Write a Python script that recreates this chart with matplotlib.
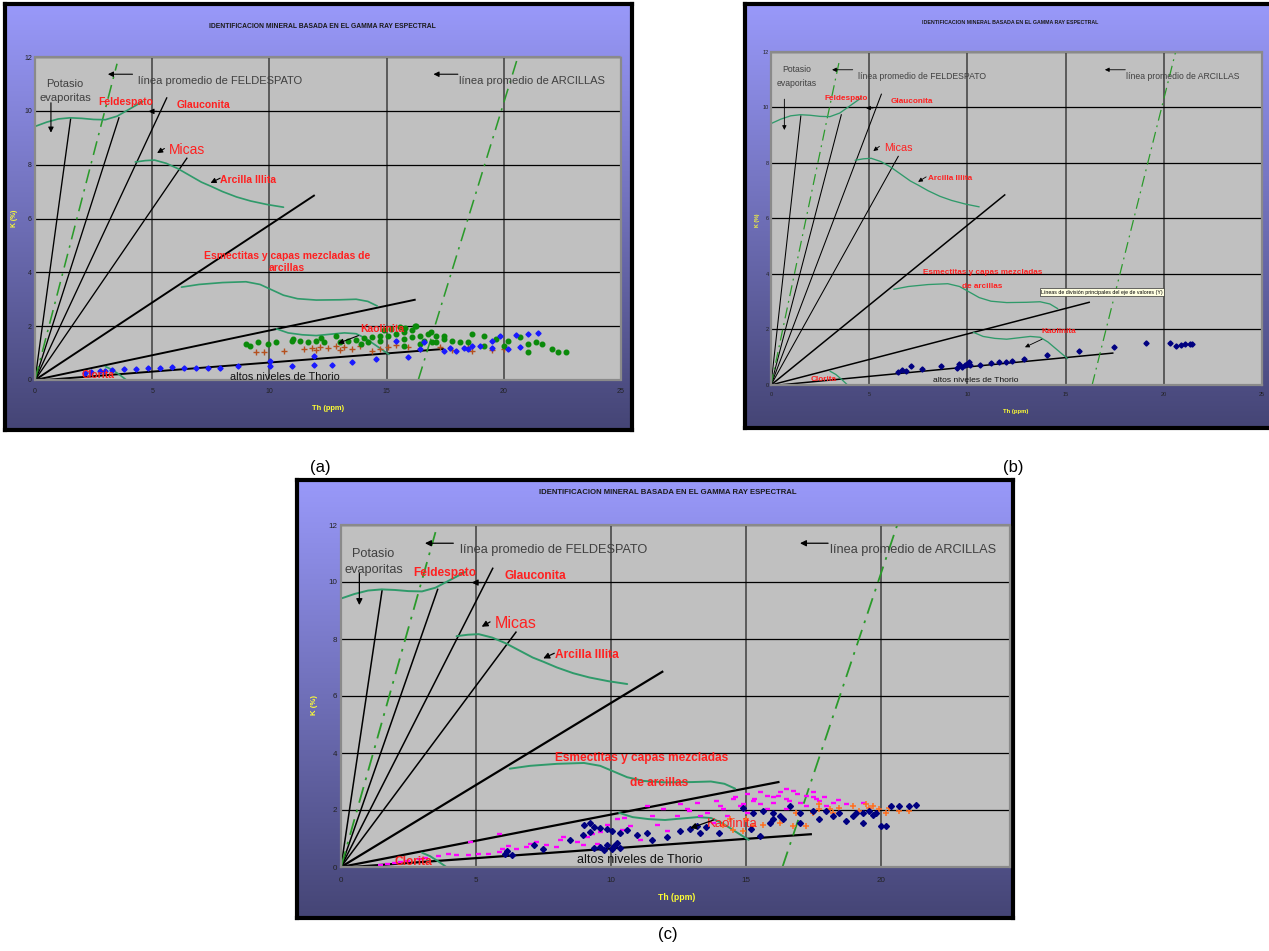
import numpy as np
import matplotlib
matplotlib.use("Agg")
import matplotlib.pyplot as plt

W, H = 1269, 951
plt.rcParams["font.family"] = ["Liberation Sans", "DejaVu Sans"]

TITLE = "IDENTIFICACION MINERAL BASADA EN EL GAMMA RAY ESPECTRAL"
X_TICKS = [0, 5, 10, 15, 20, 25]
Y_TICKS = [0, 2, 4, 6, 8, 10, 12]

# black rays from the origin (end points)
RAY_TH = [1.52, 3.58, 5.62, 6.48, 11.9, 16.2]
RAY_K = [9.70, 9.74, 10.48, 8.24, 6.85, 2.98]
RAY_LW = [1.1, 1.1, 1.1, 1.1, 1.6, 1.6]
THORIO_TH = [0.4, 17.4]
THORIO_K = [0.0, 1.15]
FELD_TH = [0.0, 3.5]
FELD_K = [0.0, 11.75]
ARC_TH = [16.35, 20.6]
ARC_K = [0.0, 12.0]

# green hand-drawn boundaries
TOP_TH = [0.0, 0.5, 1.0, 1.5, 2.0, 2.5, 3.0, 3.5, 4.0, 4.6]
TOP_K = [9.42, 9.58, 9.70, 9.74, 9.72, 9.68, 9.67, 9.80, 10.05, 10.35]
MICA_TH = [4.28, 4.7, 5.1, 5.6, 6.1, 6.6, 7.1, 7.5, 8.0, 8.6, 9.2, 9.9, 10.6]
MICA_K = [8.10, 8.15, 8.17, 8.05, 7.85, 7.60, 7.35, 7.20, 7.00, 6.80, 6.65, 6.52, 6.42]
ESME_TH = [6.25, 7.0, 8.0, 9.0, 9.6, 10.1, 10.6, 11.2, 12.0, 13.0, 13.7, 14.2, 14.6]
ESME_K = [3.45, 3.55, 3.62, 3.65, 3.55, 3.35, 3.15, 3.02, 2.97, 2.98, 3.00, 2.92, 2.75]
KAO_TH = [10.3, 10.8, 11.4, 12.0, 12.6, 13.2, 13.7, 14.1, 14.6, 15.1]
KAO_K = [1.90, 1.75, 1.68, 1.65, 1.70, 1.75, 1.72, 1.55, 1.25, 0.95]
CLO_TH = [3.0, 3.3, 3.6, 3.9, 4.2]
CLO_K = [0.50, 0.38, 0.20, 0.00, -0.20]

# panel (a) data
A_GREEN_TH = [9.0, 9.18, 9.52, 9.95, 10.29, 10.97, 11.31, 11.66, 12.0, 12.34, 12.85, 13.0, 13.36,
              13.7, 14.04, 14.38, 14.73, 15.07, 15.41, 15.75, 16.09, 16.26, 15.58, 16.43, 16.77,
              17.12, 17.46, 16.95, 16.43, 15.75, 17.8, 18.14, 18.65, 19.16, 19.68, 20.19, 20.7,
              21.04, 21.39, 21.64, 22.07, 22.32, 22.66, 21.04, 19.16, 17.46, 14.73, 14.21, 15.75,
              17.12, 18.48, 20.02, 16.09, 16.6, 15.2, 15.8, 16.2, 11.0, 12.2, 13.9, 14.9, 16.9]
A_GREEN_K = [1.34, 1.28, 1.40, 1.34, 1.40, 1.46, 1.46, 1.43, 1.46, 1.43, 1.63, 1.40, 1.46,
             1.50, 1.55, 1.59, 1.46, 1.65, 1.71, 1.78, 1.84, 2.00, 1.96, 1.63, 1.71,
             1.65, 1.53, 1.40, 1.34, 1.28, 1.46, 1.40, 1.71, 1.63, 1.53, 1.46, 1.59,
             1.34, 1.40, 1.34, 1.15, 1.05, 1.05, 1.03, 1.28, 1.65, 1.65, 1.40, 1.53,
             1.40, 1.43, 1.28, 1.59, 1.46, 1.90, 1.95, 2.00, 1.52, 1.55, 1.35, 1.85, 1.80]
A_BROWN_TH = [9.44, 9.78, 10.63, 11.48, 11.83, 12.17, 12.51, 12.85, 13.2, 13.54, 13.88, 14.38,
              14.73, 15.07, 15.41, 15.92, 16.43, 17.29, 17.8, 18.48, 19.5, 20.0, 18.65, 12.0, 13.0]
A_BROWN_K = [1.05, 1.05, 1.09, 1.15, 1.18, 1.21, 1.18, 1.28, 1.21, 1.15, 1.28, 1.09,
             1.15, 1.21, 1.30, 1.21, 1.15, 1.21, 1.12, 1.21, 1.12, 1.15, 1.09, 1.10, 1.12]
A_BLUE_TH = [2.13, 2.4, 2.78, 3.0, 3.29, 3.8, 4.3, 4.83, 5.34, 5.85, 6.36, 6.88, 7.39, 7.9, 8.67,
             10.03, 10.03, 10.97, 11.91, 11.91, 12.68, 13.54, 14.56, 15.92, 16.6, 17.46, 17.97,
             18.48, 18.99, 19.5, 19.85, 20.53, 21.04, 21.47, 20.19, 20.7, 19.5, 18.65, 18.3,
             15.4, 16.43, 17.7]
A_BLUE_K = [0.25, 0.28, 0.34, 0.33, 0.38, 0.40, 0.42, 0.45, 0.46, 0.49, 0.46, 0.46, 0.44, 0.44, 0.52,
            0.71, 0.52, 0.52, 0.55, 0.90, 0.57, 0.67, 0.77, 0.87, 1.40, 1.09, 1.09,
            1.15, 1.27, 1.46, 1.65, 1.67, 1.71, 1.74, 1.15, 1.21, 1.18, 1.27, 1.18,
            1.46, 1.15, 1.18]

# panel (b) data
B_NAVY_TH = [6.47, 6.69, 6.86, 7.15, 7.71, 8.64, 9.48, 9.57, 9.74, 9.86, 9.96, 10.08, 10.13,
             10.63, 11.18, 11.6, 11.94, 12.28, 12.9, 14.05, 15.66, 17.44, 19.08, 20.31, 20.62,
             20.86, 21.07, 21.33, 21.46]
B_NAVY_K = [0.46, 0.53, 0.52, 0.67, 0.59, 0.67, 0.62, 0.76, 0.64, 0.72, 0.77, 0.82, 0.73,
            0.73, 0.78, 0.82, 0.83, 0.86, 0.93, 1.07, 1.21, 1.38, 1.50, 1.53, 1.42,
            1.43, 1.48, 1.48, 1.49]

# panel (c) data
C_MAG_TH = [1.45, 1.7, 1.95, 2.45, 2.89, 3.58, 3.96, 4.27, 4.71, 5.09, 5.46, 5.84, 5.97, 6.47,
            6.85, 7.22, 7.6, 7.97, 8.23, 8.73, 8.98, 9.48, 4.77, 5.84, 9.11, 9.61, 10.22, 10.71,
            11.08, 11.7, 12.07, 12.44, 12.8, 13.17, 13.54, 14.03, 14.28, 14.53, 14.77, 15.02,
            15.26, 15.51, 15.76, 16.0, 16.25, 16.49, 16.74, 16.99, 17.23, 17.48, 17.72, 17.97,
            18.22, 18.71, 19.32, 13.3, 13.79, 11.94, 11.33, 10.47, 9.85, 15.76, 16.49, 17.23,
            15.02, 14.16, 12.56, 15.51, 16.49, 16.0, 17.48, 13.9, 14.6, 15.3, 16.2, 16.9, 17.6,
            12.9, 11.5, 10.4, 9.3, 8.1, 7.0, 6.2, 3.1, 2.2, 14.9, 16.6, 17.9, 18.4]
C_MAG_K = [0.08, 0.12, 0.15, 0.20, 0.27, 0.39, 0.45, 0.41, 0.43, 0.47, 0.47, 0.53, 0.64, 0.62,
           0.70, 0.88, 0.76, 0.70, 1.05, 0.88, 0.76, 0.82, 0.88, 1.17, 1.05, 1.23, 1.67, 1.43,
           0.95, 1.49, 1.25, 1.79, 2.02, 2.26, 1.90, 2.14, 1.79, 2.38, 2.14, 2.56,
           2.32, 2.20, 2.50, 2.26, 2.62, 2.38, 2.68, 2.26, 2.50, 2.44, 2.32, 2.14,
           2.26, 2.20, 2.26, 1.79, 1.55, 2.02, 2.14, 1.73, 1.49, 2.02, 2.02, 2.14,
           1.90, 2.02, 2.20, 2.62, 2.74, 2.44, 2.62, 2.30, 2.45, 2.40, 2.50, 2.55, 2.40,
           1.95, 1.80, 1.30, 1.15, 0.95, 0.80, 0.72, 0.30, 0.18, 2.20, 2.30, 2.45, 2.35]
C_NAVY_TH = [8.99, 9.24, 9.61, 9.85, 10.04, 10.34, 10.59, 10.96, 11.33, 11.51, 12.07, 12.56, 12.93,
             13.3, 9.36, 9.61, 9.85, 10.1, 10.34, 9.73, 10.04, 10.22, 14.9, 15.26, 15.63, 16.0,
             16.25, 16.37, 16.62, 16.99, 17.48, 17.72, 17.97, 18.22, 18.46, 18.71, 19.08, 19.32,
             19.57, 19.82, 20.0, 20.18, 20.37, 20.68, 21.05, 21.3, 16.0, 15.88, 16.99, 18.96,
             19.32, 19.69, 13.5, 13.2, 14.0, 15.5, 15.2, 6.09, 6.34, 7.16, 7.48, 8.48, 8.98,
             9.23, 9.36, 6.16]
C_NAVY_K = [1.49, 1.55, 1.37, 1.33, 1.25, 1.19, 1.31, 1.13, 1.19, 0.95, 1.07, 1.25, 1.33,
            1.19, 0.65, 0.71, 0.77, 0.74, 0.65, 0.60, 0.62, 0.83, 2.08, 1.90, 1.96, 1.90,
            1.79, 1.67, 2.14, 1.90, 1.96, 1.67, 1.96, 1.79, 1.90, 1.61, 1.90, 1.55,
            1.96, 1.90, 1.43, 1.43, 2.14, 2.14, 2.14, 2.17, 1.67, 1.55, 1.55, 1.79,
            1.90, 1.84, 1.40, 1.45, 1.20, 1.10, 1.35, 0.47, 0.41, 0.76, 0.64, 0.94, 1.11,
            1.23, 1.40, 0.55]
C_ORANGE_TH = [14.16, 14.53, 14.9, 15.26, 15.63, 16.25, 16.74, 17.23, 17.72, 18.1, 18.46, 18.96,
               19.45, 19.69, 19.94, 20.31, 20.68, 21.05, 17.48, 18.22, 19.2, 19.57, 20.18, 14.4,
               15.0, 16.86, 17.72]
C_ORANGE_K = [1.49, 1.31, 1.25, 1.43, 1.49, 1.55, 1.43, 1.43, 2.02, 2.05, 2.08, 2.14,
              2.20, 2.14, 2.02, 2.08, 1.96, 1.96, 1.90, 1.90, 1.96, 2.08, 1.90, 1.67,
              1.67, 1.90, 2.20]

# label text and anchor positions (Th, K) used by all panels unless overridden
LABELS = {
    "potasio": ("Potasio", 1.2, 10.97),
    "evap": ("evaporitas", 1.2, 10.42),
    "feld_line": ("línea promedio de FELDESPATO", 4.41, 11.12),
    "arc_line": ("línea promedio de ARCILLAS", 18.1, 11.12),
    "feldespato": ("Feldespato", 3.85, 10.33),
    "glauconita": ("Glauconita", 7.19, 10.2),
    "micas": ("Micas", 6.48, 8.55),
    "illita": ("Arcilla Illita", 9.1, 7.43),
    "esme1": ("Esmectitas y capas mezcladas", 11.15, 3.82),
    "esme2": ("de arcillas", 11.8, 2.95),
    "kaolinita": ("Kaolinita", 14.5, 1.5),
    "clorita": ("Clorita", 2.68, 0.19),
    "thorio": ("altos niveles de Thorio", 11.07, 0.25),
}
# arrows: (tip, tail)
ARROWS = {
    "evap": ((0.68, 9.19), (0.68, 10.3)),
    "feld_line": ((3.11, 11.36), (4.16, 11.36)),
    "arc_line": ((17.0, 11.36), (18.04, 11.36)),
    "glauconita": ((4.84, 9.98), (5.2, 9.98)),
    "micas": ((5.21, 8.43), (5.52, 8.6)),
    "illita": ((7.49, 7.32), (7.9, 7.5)),
    "kaolinita": ((12.93, 1.36), (13.8, 1.65)),
}


def rect(l, t, r, b):
    return [l / W, 1 - b / H, (r - l) / W, (b - t) / H]


def draw_panel(fig, frame, plot, xmax, s, title_xy, xlab_xy, ylab_xy, series, overrides=None,
               kaol_red_bold=False):
    labels = dict(LABELS)
    if overrides:
        labels.update(overrides)

    # gradient background with black frame
    bg = fig.add_axes(rect(*frame))
    grad = np.linspace(0, 1, 256).reshape(-1, 1)
    top = np.array([0.60, 0.60, 0.98])
    bot = np.array([0.27, 0.27, 0.46])
    img = top + (bot - top) * grad[:, :, None]
    bg.imshow(img, aspect="auto", extent=[0, 1, 0, 1])
    bg.set_xticks([])
    bg.set_yticks([])
    for sp in bg.spines.values():
        sp.set_linewidth(3)
        sp.set_color("black")

    fig.text(title_xy[0] / W, 1 - title_xy[1] / H, TITLE, ha="center", va="center",
             fontsize=5.6 * s, fontweight="bold", color="#1a1a1a")
    fig.text(xlab_xy[0] / W, 1 - xlab_xy[1] / H, "Th (ppm)", ha="center", va="center",
             fontsize=6.2 * s, fontweight="bold", color="#ffff33")
    fig.text(ylab_xy[0] / W, 1 - ylab_xy[1] / H, "K (%)", ha="center", va="center",
             rotation=90, fontsize=5.6 * s, fontweight="bold", color="#ffff33")

    ax = fig.add_axes(rect(*plot))
    ax.set_facecolor("#c0c0c0")
    ax.set_xlim(0, xmax)
    ax.set_ylim(0, 12)
    ax.set_xticks([t for t in X_TICKS if t <= xmax])
    ax.set_yticks(Y_TICKS)
    ax.tick_params(length=0, labelsize=5.8 * s, colors="#222222")
    ax.tick_params(axis="x", pad=7 * s)
    ax.tick_params(axis="y", pad=2.5 * s)
    ax.xaxis.grid(True, color="#5a5a5a", lw=1.4)
    ax.yaxis.grid(True, color="black", lw=0.9)
    ax.set_axisbelow(True)
    for sp in ax.spines.values():
        sp.set_linestyle((0, (1, 1)))
        sp.set_color("#8a8a8a")
        sp.set_linewidth(1.6)

    # boundaries
    for th, k, lw in zip(RAY_TH, RAY_K, RAY_LW):
        ax.plot([0, th], [0, k], color="black", lw=lw * s)
    ax.plot(THORIO_TH, THORIO_K, color="black", lw=1.6 * s)
    dd = (0, (9, 4, 1.5, 4))
    ax.plot(FELD_TH, FELD_K, color="#2a9a2a", lw=1.3 * s, ls=dd)
    ax.plot(ARC_TH, ARC_K, color="#2a9a2a", lw=1.3 * s, ls=dd)
    for th, k in [(TOP_TH, TOP_K), (MICA_TH, MICA_K), (ESME_TH, ESME_K), (KAO_TH, KAO_K),
                  (CLO_TH, CLO_K)]:
        ax.plot(th, k, color="#2f9a6a", lw=1.4 * s, solid_capstyle="round")

    # data
    for th, k, kw in series:
        ax.plot(th, k, ls="none", **kw)

    # text labels
    gray = dict(color="#404040", fontsize=9.2 * s)
    red_b = dict(color="#ff2020", fontsize=8.6 * s, fontweight="bold")
    for key in ["potasio", "evap"]:
        t, x, y = labels[key]
        ax.text(x, y, t, ha="center", va="center", **gray)
    for key in ["feld_line", "arc_line"]:
        t, x, y = labels[key]
        ax.text(x, y, t, ha="left", va="center", **gray)
    for key in ["feldespato", "glauconita", "illita", "esme1", "esme2", "clorita"]:
        t, x, y = labels[key]
        ax.text(x, y, t, ha="center", va="center", **red_b)
    t, x, y = labels["micas"]
    ax.text(x, y, t, ha="center", va="center", color="#ff2020", fontsize=11.5 * s)
    t, x, y = labels["kaolinita"]
    if kaol_red_bold:
        ax.text(x, y, t, ha="center", va="center", **red_b)
    else:
        ax.text(x, y, t, ha="center", va="center", color="#ff2020", fontsize=9.5 * s)
    t, x, y = labels["thorio"]
    ax.text(x, y, t, ha="center", va="center", color="#111111", fontsize=9 * s)

    for key, (tip, tail) in ARROWS.items():
        ax.annotate("", xy=tip, xytext=tail,
                    arrowprops=dict(arrowstyle="-|>", color="black", lw=0.9 * s,
                                    mutation_scale=9 * s, shrinkA=0, shrinkB=0))
    return ax


fig = plt.figure(figsize=(W / 100, H / 100), dpi=100)
fig.patch.set_facecolor("white")

# panel (a)
series_a = [
    (A_BROWN_TH, A_BROWN_K, dict(marker="+", color="#b5501e", ms=4.2, mew=1.0)),
    (A_GREEN_TH, A_GREEN_K, dict(marker="o", color="#0a8a0a", ms=3.3)),
    (A_BLUE_TH, A_BLUE_K, dict(marker="D", color="#1a1aff", ms=2.6)),
]
draw_panel(fig, (5, 4, 632, 430), (35, 57, 621, 380), 25, 0.87, (322, 27), (328, 408),
           (14, 218), series_a,
           overrides={"esme1": ("Esmectitas y capas mezcladas de", 10.75, 4.62),
                      "esme2": ("arcillas", 10.75, 4.16),
                      "kaolinita": ("Kaolinita", 14.8, 1.88),
                      "thorio": ("altos niveles de Thorio", 10.66, 0.1),
                      "potasio": ("Potasio", 1.28, 11.0),
                      "evap": ("evaporitas", 1.28, 10.48)},
           kaol_red_bold=True)

# panel (b)
series_b = [(B_NAVY_TH, B_NAVY_K, dict(marker="D", color="#000080", ms=2.6))]
ax_b = draw_panel(fig, (745, 4, 1275, 428), (771, 52, 1262, 385), 25, 0.68, (1010, 22),
                  (1016, 412), (757, 220), series_b,
                  overrides={"esme1": ("Esmectitas y capas mezcladas", 10.76, 4.04),
                             "esme2": ("de arcillas", 10.76, 3.54),
                             "kaolinita": ("Kaolinita", 14.66, 1.94),
                             "potasio": ("Potasio", 1.3, 11.37),
                             "evap": ("evaporitas", 1.3, 10.88),
                             "thorio": ("altos niveles de Thorio", 10.4, 0.18)},
                  kaol_red_bold=True)
ax_b.text(16.85, 3.35, "Líneas de división principales del eje de valores (Y)", ha="center",
          va="center", fontsize=3.8, color="black",
          bbox=dict(boxstyle="square,pad=0.3", fc="#ffffe1", ec="#333333", lw=0.5))

# panel (c)
series_c = [
    (C_MAG_TH, C_MAG_K, dict(marker="_", color="#ff00ff", ms=3.6, mew=1.7)),
    (C_ORANGE_TH, C_ORANGE_K, dict(marker="+", color="#ff7020", ms=4.5, mew=1.1)),
    (C_NAVY_TH, C_NAVY_K, dict(marker="D", color="#000080", ms=3.0)),
]
draw_panel(fig, (297, 480, 1013, 918), (341, 525, 1010, 867), (1010 - 341) / 27.0, 1.0,
           (668, 493), (677, 897), (315, 705), series_c)

fig.text(320 / W, 1 - 467 / H, "(a)", ha="center", va="center", fontsize=12)
fig.text(1013 / W, 1 - 467 / H, "(b)", ha="center", va="center", fontsize=12)
fig.text(668 / W, 1 - 935 / H, "(c)", ha="center", va="center", fontsize=12)

fig.savefig("out.png", dpi=100)
